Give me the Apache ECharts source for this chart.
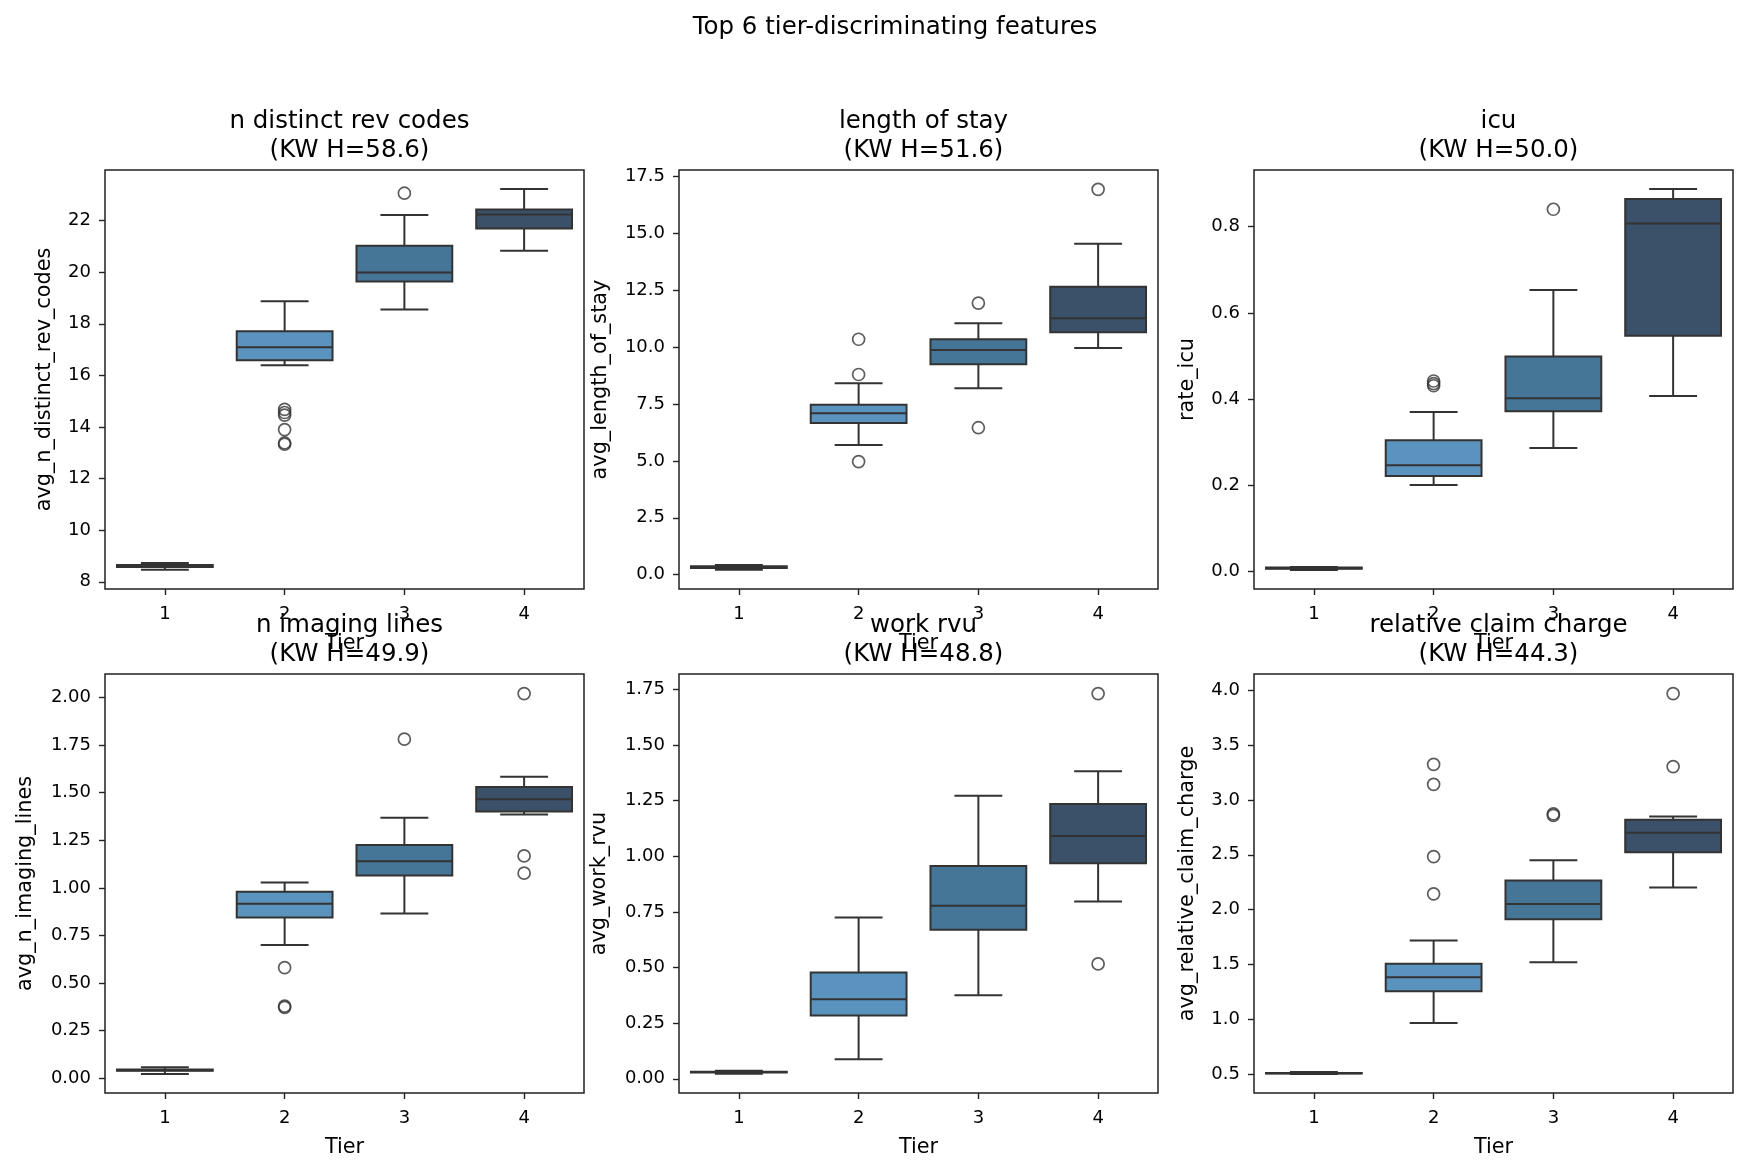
<!DOCTYPE html>
<html>
<head>
<meta charset="utf-8">
<script src="https://cdn.jsdelivr.net/npm/echarts@6/dist/echarts.min.js"></script>
<style>
html,body{margin:0;padding:0;background:#fff;}
#chart{width:1747px;height:1172px;}
</style>
</head>
<body>
<div id="chart"></div>
<script>
// ---------------- data ----------------
const tiers = ['1', '2', '3', '4'];

// box stats per tier: [whiskerLow, Q1, median, Q3, whiskerHigh]
const revCodesBox = [[8.47, 8.57, 8.61, 8.65, 8.73], [16.39, 16.59, 17.09, 17.71, 18.87], [18.55, 19.64, 19.99, 21.02, 22.22], [20.83, 21.69, 22.24, 22.43, 23.22]];
const revCodesOut = [[1, 14.68], [1, 14.56], [1, 14.46], [1, 13.90], [1, 13.38], [1, 13.33], [2, 23.06]];
const revCodesTicks = [8, 10, 12, 14, 16, 18, 20, 22];

const losBox = [[0.22, 0.29, 0.33, 0.37, 0.42], [5.70, 6.67, 7.10, 7.47, 8.42], [8.20, 9.25, 9.88, 10.35, 11.05], [9.97, 10.66, 11.27, 12.66, 14.55]];
const losOut = [[1, 10.35], [1, 8.80], [1, 4.97], [2, 11.94], [2, 6.46], [3, 16.94]];
const losTicks = [0, 2.5, 5, 7.5, 10, 12.5, 15, 17.5];

const icuBox = [[0.004, 0.007, 0.008, 0.010, 0.011], [0.201, 0.222, 0.247, 0.305, 0.370], [0.287, 0.372, 0.402, 0.499, 0.653], [0.407, 0.547, 0.807, 0.864, 0.887]];
const icuOut = [[1, 0.442], [1, 0.436], [1, 0.431], [2, 0.840]];
const icuTicks = [0, 0.2, 0.4, 0.6, 0.8];

const imagingBox = [[0.023, 0.040, 0.043, 0.047, 0.058], [0.700, 0.844, 0.917, 0.980, 1.028], [0.866, 1.065, 1.140, 1.225, 1.368], [1.385, 1.401, 1.466, 1.530, 1.583]];
const imagingOut = [[1, 0.581], [1, 0.379], [1, 0.373], [2, 1.781], [3, 2.020], [3, 1.168], [3, 1.077]];
const imagingTicks = [0, 0.25, 0.5, 0.75, 1, 1.25, 1.5, 1.75, 2];

const rvuBox = [[0.022, 0.028, 0.030, 0.032, 0.036], [0.088, 0.284, 0.357, 0.478, 0.725], [0.375, 0.670, 0.778, 0.956, 1.272], [0.797, 0.968, 1.091, 1.235, 1.382]];
const rvuOut = [[3, 1.731], [3, 0.516]];
const rvuTicks = [0, 0.25, 0.5, 0.75, 1, 1.25, 1.5, 1.75];

const chargeBox = [[0.502, 0.505, 0.507, 0.510, 0.520], [0.966, 1.256, 1.383, 1.507, 1.718], [1.520, 1.911, 2.052, 2.266, 2.449], [2.202, 2.522, 2.700, 2.820, 2.848]];
const chargeOut = [[1, 3.324], [1, 3.142], [1, 2.483], [1, 2.144], [2, 2.873], [2, 2.859], [3, 3.969], [3, 3.304]];
const chargeTicks = [0.5, 1, 1.5, 2, 2.5, 3, 3.5, 4];

// ---------------- layout / style ----------------
const FONT = 'DejaVu Sans';
const tierColors = ['#6fa8d3', '#5a93bd', '#457597', '#3b5169'];
const LINE = '#333333';

const panels = [
  {title: 'n distinct rev codes\n(KW H=58.6)', ylabel: 'avg_n_distinct_rev_codes', box: revCodesBox, out: revCodesOut, ticks: revCodesTicks, dec: 0, ylim: [7.72, 23.96], gap: 50},
  {title: 'length of stay\n(KW H=51.6)', ylabel: 'avg_length_of_stay', box: losBox, out: losOut, ticks: losTicks, dec: 1, ylim: [-0.63, 17.79], gap: 68},
  {title: 'icu\n(KW H=50.0)', ylabel: 'rate_icu', box: icuBox, out: icuOut, ticks: icuTicks, dec: 1, ylim: [-0.040, 0.931], gap: 56},
  {title: 'n imaging lines\n(KW H=49.9)', ylabel: 'avg_n_imaging_lines', box: imagingBox, out: imagingOut, ticks: imagingTicks, dec: 2, ylim: [-0.077, 2.123], gap: 69},
  {title: 'work rvu\n(KW H=48.8)', ylabel: 'avg_work_rvu', box: rvuBox, out: rvuOut, ticks: rvuTicks, dec: 2, ylim: [-0.064, 1.819], gap: 69},
  {title: 'relative claim charge\n(KW H=44.3)', ylabel: 'avg_relative_claim_charge', box: chargeBox, out: chargeOut, ticks: chargeTicks, dec: 1, ylim: [0.328, 4.148], gap: 56}
];

const gridLefts = [105, 679, 1254];
const gridTops = [170, 674];
const GW = 479, GH = 419;

function renderBox(params, api) {
  const x = api.value(0);
  const lo = api.value(1), q1 = api.value(2), med = api.value(3), q3 = api.value(4), hi = api.value(5);
  const band = api.size([1, 0])[0];
  const bw = band * 0.8, cw = band * 0.4;
  const cx = api.coord([x, med])[0];
  const yLo = api.coord([x, lo])[1], yQ1 = api.coord([x, q1])[1], yMed = api.coord([x, med])[1];
  const yQ3 = api.coord([x, q3])[1], yHi = api.coord([x, hi])[1];
  const ls = {stroke: LINE, lineWidth: 2, fill: null};
  return {
    type: 'group',
    children: [
      {type: 'line', shape: {x1: cx, y1: yQ1, x2: cx, y2: yLo}, style: ls},
      {type: 'line', shape: {x1: cx, y1: yQ3, x2: cx, y2: yHi}, style: ls},
      {type: 'line', shape: {x1: cx - cw / 2, y1: yLo, x2: cx + cw / 2, y2: yLo}, style: ls},
      {type: 'line', shape: {x1: cx - cw / 2, y1: yHi, x2: cx + cw / 2, y2: yHi}, style: ls},
      {type: 'rect', shape: {x: cx - bw / 2, y: yQ3, width: bw, height: Math.max(yQ1 - yQ3, 0.01)},
        style: {fill: tierColors[params.dataIndex], stroke: LINE, lineWidth: 2}},
      {type: 'line', shape: {x1: cx - bw / 2, y1: yMed, x2: cx + bw / 2, y2: yMed}, style: ls}
    ]
  };
}

const titles = [{
  text: 'Top 6 tier-discriminating features',
  left: 890, top: 8, textAlign: 'center',
  textStyle: {fontFamily: FONT, fontSize: 24.5, fontWeight: 'normal', color: '#000', lineHeight: 29}
}];
const grids = [], xAxes = [], yAxes = [], series = [];

panels.forEach((p, i) => {
  const col = i % 3, row = Math.floor(i / 3);
  const left = gridLefts[col], top = gridTops[row];
  titles.push({
    text: p.title, left: left + GW / 2, top: top - 68, textAlign: 'center',
    textStyle: {fontFamily: FONT, fontSize: 24.5, fontWeight: 'normal', color: '#000', lineHeight: 29, align: 'center'}
  });
  grids.push({left: left, top: top, width: GW, height: GH, show: true, borderColor: '#222', borderWidth: 1.5, backgroundColor: '#fff'});
  xAxes.push({
    type: 'category', gridIndex: i, data: tiers, boundaryGap: true, position: 'bottom',
    name: 'Tier', nameLocation: 'middle', nameGap: 44,
    nameTextStyle: {fontFamily: FONT, fontSize: 20.8, color: '#000'},
    axisLine: {show: false, onZero: false},
    axisTick: {show: true, alignWithLabel: true, length: 6, lineStyle: {color: '#222', width: 1.4}},
    axisLabel: {fontFamily: FONT, fontSize: 18, color: '#000', margin: 16},
    splitLine: {show: false}
  });
  yAxes.push({
    type: 'value', gridIndex: i, min: p.ylim[0], max: p.ylim[1], position: 'left',
    name: p.ylabel, nameLocation: 'middle', nameRotate: 90, nameGap: p.gap,
    nameTextStyle: {fontFamily: FONT, fontSize: 20.8, color: '#000'},
    axisLine: {show: false, onZero: false},
    axisTick: {show: true, length: 6, customValues: p.ticks, lineStyle: {color: '#222', width: 1.4}},
    axisLabel: {fontFamily: FONT, fontSize: 18, color: '#000', margin: 14, customValues: p.ticks,
      formatter: (v) => Number(v).toFixed(p.dec)},
    splitLine: {show: false}
  });
  series.push({
    type: 'custom', xAxisIndex: i, yAxisIndex: i, renderItem: renderBox,
    data: p.box.map((b, k) => [k].concat(b)),
    encode: {x: 0, y: [1, 2, 3, 4, 5]}, silent: true
  });
  series.push({
    type: 'scatter', xAxisIndex: i, yAxisIndex: i, data: p.out,
    symbol: 'circle', symbolSize: 12, silent: true,
    itemStyle: {color: 'rgba(255,255,255,0)', borderColor: LINE, borderWidth: 1.7}
  });
});

const chart = echarts.init(document.getElementById('chart'), null, {renderer: 'canvas'});
chart.setOption({
  animation: false,
  backgroundColor: '#fff',
  title: titles,
  grid: grids,
  xAxis: xAxes,
  yAxis: yAxes,
  series: series
});
</script>
</body>
</html>
